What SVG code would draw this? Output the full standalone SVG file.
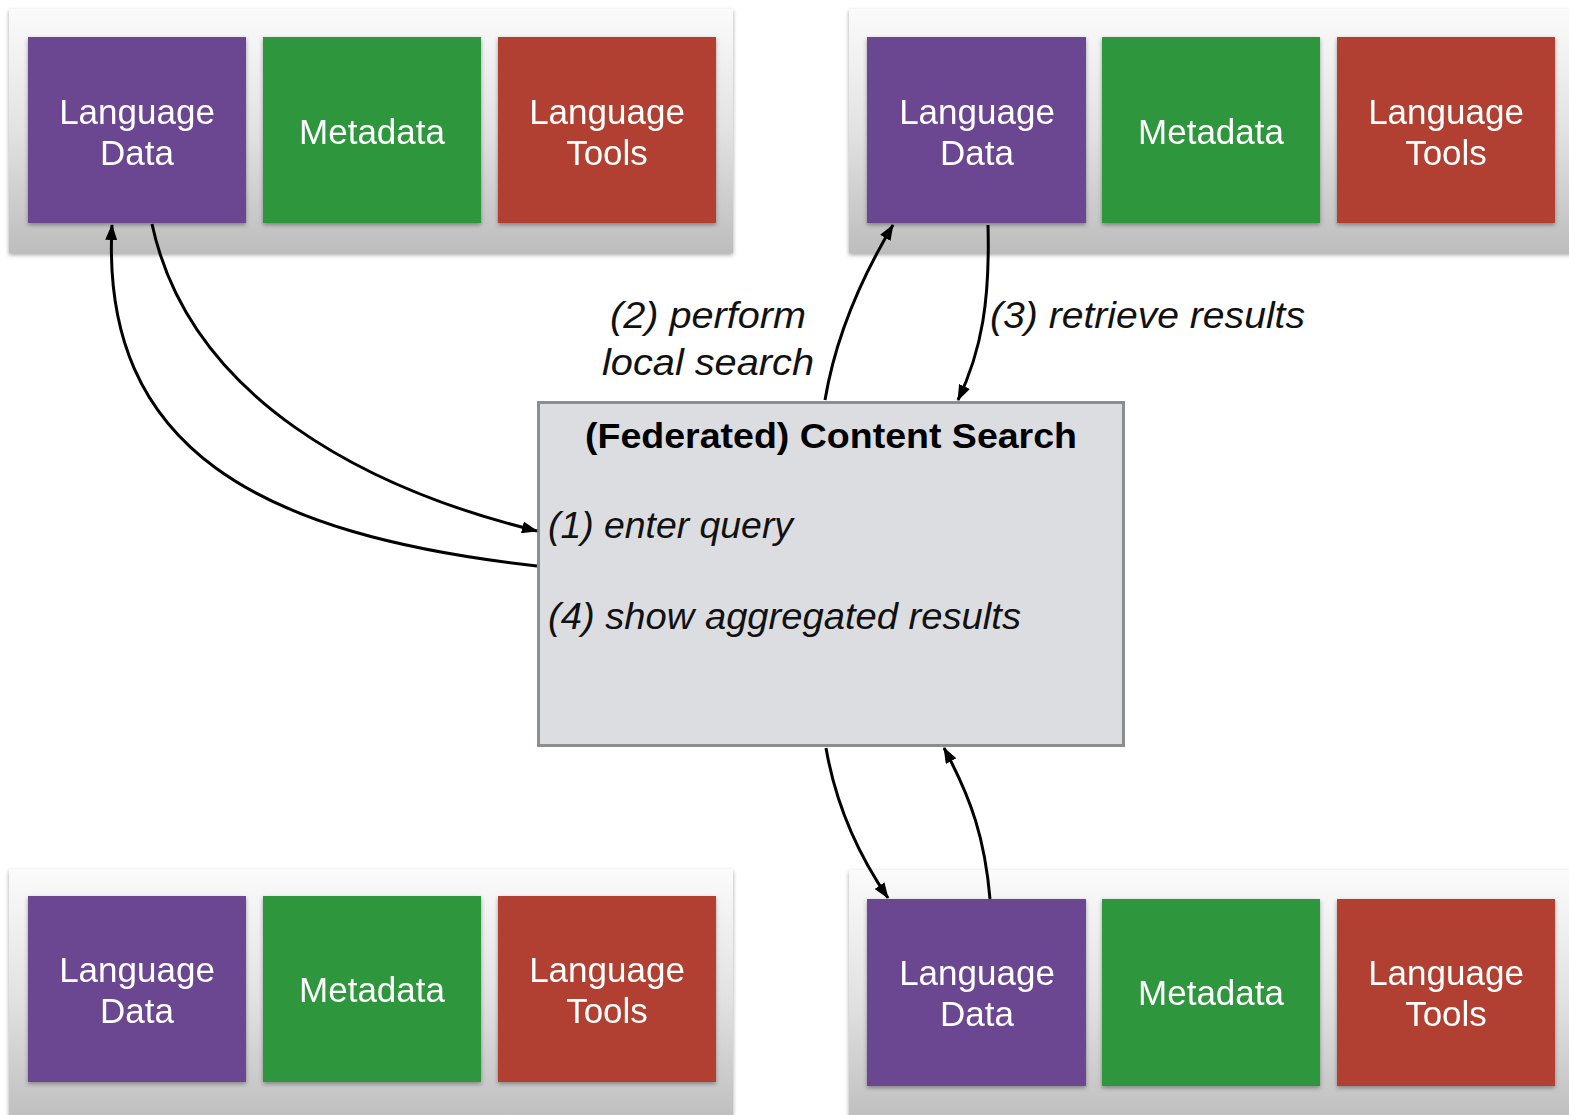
<svg xmlns="http://www.w3.org/2000/svg" width="1569" height="1115" viewBox="0 0 1569 1115">
<defs>
<linearGradient id="panelGrad" x1="0" y1="0" x2="0" y2="1">
<stop offset="0" stop-color="#fbfbfb"/>
<stop offset="0.5" stop-color="#e2e2e2"/>
<stop offset="1" stop-color="#bdbdbd"/>
</linearGradient>
<filter id="shadow" x="-5%" y="-5%" width="110%" height="115%">
<feDropShadow dx="0" dy="2" stdDeviation="2" flood-color="#000" flood-opacity="0.35"/>
</filter>
<marker id="ah" viewBox="0 0 16 12" refX="15" refY="6" markerWidth="16" markerHeight="12" markerUnits="userSpaceOnUse" orient="auto">
<path d="M0,0 L16,6 L0,12 z" fill="#000"/>
</marker>
</defs>
<style>
.panel{fill:url(#panelGrad);filter:url(#shadow)}
.box{filter:url(#shadow)}
.purple{fill:#6b4790}
.green{fill:#2e963e}
.red{fill:#b14130}
.bt{font-family:"Liberation Sans",Arial,sans-serif;font-size:35px;fill:#fff;text-anchor:middle}
.lab{font-family:"Liberation Sans",Arial,sans-serif;font-size:37px;font-style:italic;fill:#111}
.title{font-family:"Liberation Sans",Arial,sans-serif;font-size:35px;font-weight:bold;fill:#000;text-anchor:middle}
.conn{fill:none;stroke:#000;stroke-width:3}
</style>
<rect width="1569" height="1115" fill="#fff"/>

<g id="panel-top-left">
<rect class="panel" x="9" y="9" width="724" height="244"/>
<g id="tl-data" class="box"><rect class="purple" x="28" y="37" width="218" height="186"/>
<text class="bt" x="137" y="124">Language</text><text class="bt" x="137" y="165">Data</text></g>
<g id="tl-meta" class="box"><rect class="green" x="263" y="37" width="218" height="186"/>
<text class="bt" x="372" y="144">Metadata</text></g>
<g id="tl-tools" class="box"><rect class="red" x="498" y="37" width="218" height="186"/>
<text class="bt" x="607" y="124">Language</text><text class="bt" x="607" y="165">Tools</text></g>
</g>

<g id="panel-top-right">
<rect class="panel" x="849" y="9" width="730" height="244"/>
<g id="tr-data" class="box"><rect class="purple" x="867" y="37" width="219" height="186"/>
<text class="bt" x="977" y="124">Language</text><text class="bt" x="977" y="165">Data</text></g>
<g id="tr-meta" class="box"><rect class="green" x="1102" y="37" width="218" height="186"/>
<text class="bt" x="1211" y="144">Metadata</text></g>
<g id="tr-tools" class="box"><rect class="red" x="1337" y="37" width="218" height="186"/>
<text class="bt" x="1446" y="124">Language</text><text class="bt" x="1446" y="165">Tools</text></g>
</g>

<g id="panel-bottom-left">
<rect class="panel" x="9" y="869" width="724" height="256"/>
<g id="bl-data" class="box"><rect class="purple" x="28" y="896" width="218" height="186"/>
<text class="bt" x="137" y="982">Language</text><text class="bt" x="137" y="1023">Data</text></g>
<g id="bl-meta" class="box"><rect class="green" x="263" y="896" width="218" height="186"/>
<text class="bt" x="372" y="1002">Metadata</text></g>
<g id="bl-tools" class="box"><rect class="red" x="498" y="896" width="218" height="186"/>
<text class="bt" x="607" y="982">Language</text><text class="bt" x="607" y="1023">Tools</text></g>
</g>

<g id="panel-bottom-right">
<rect class="panel" x="849" y="870" width="730" height="256"/>
<g id="br-data" class="box"><rect class="purple" x="867" y="899" width="219" height="187"/>
<text class="bt" x="977" y="985">Language</text><text class="bt" x="977" y="1026">Data</text></g>
<g id="br-meta" class="box"><rect class="green" x="1102" y="899" width="218" height="187"/>
<text class="bt" x="1211" y="1005">Metadata</text></g>
<g id="br-tools" class="box"><rect class="red" x="1337" y="899" width="218" height="187"/>
<text class="bt" x="1446" y="985">Language</text><text class="bt" x="1446" y="1026">Tools</text></g>
</g>

<g id="content-search">
<rect x="538.5" y="402.5" width="585" height="343" fill="#dcdde0" stroke="#8b8d91" stroke-width="3"/>
<text class="title" x="831" y="448" textLength="492" lengthAdjust="spacingAndGlyphs">(Federated) Content Search</text>
<text class="lab" x="548" y="538" textLength="245" lengthAdjust="spacingAndGlyphs">(1) enter query</text>
<text class="lab" x="548" y="629" textLength="473" lengthAdjust="spacingAndGlyphs">(4) show aggregated results</text>
</g>

<g id="connectors">
<path class="conn" marker-end="url(#ah)" d="M152,224 C190,400 370,490 537,531"/>
<path class="conn" marker-end="url(#ah)" d="M537,566 C260,535 100,450 112,225"/>
<path class="conn" marker-end="url(#ah)" d="M825,400 C835,340 860,280 893,225"/>
<path class="conn" marker-end="url(#ah)" d="M988,225 C990,300 982,350 958,400"/>
<path class="conn" marker-end="url(#ah)" d="M826,748 C835,800 855,850 888,898"/>
<path class="conn" marker-end="url(#ah)" d="M990,899 C985,840 972,800 944,748"/>
</g>

<g id="labels">
<text class="lab" x="610" y="328" textLength="196" lengthAdjust="spacingAndGlyphs">(2) perform</text>
<text class="lab" x="602" y="375" textLength="212" lengthAdjust="spacingAndGlyphs">local search</text>
<text class="lab" x="990" y="328" textLength="315" lengthAdjust="spacingAndGlyphs">(3) retrieve results</text>
</g>
</svg>
